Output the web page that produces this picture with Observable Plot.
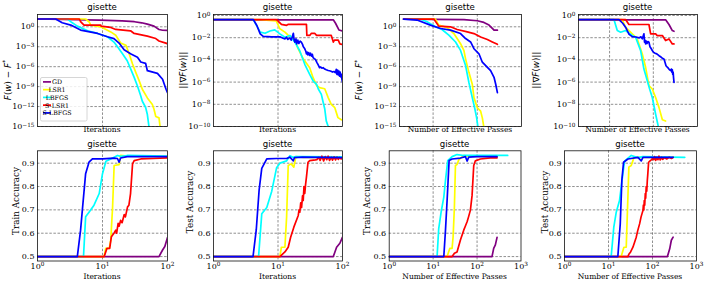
<!DOCTYPE html>
<html><head><meta charset="utf-8">
<script src="https://cdn.jsdelivr.net/npm/d3@7"></script>
<script src="https://cdn.jsdelivr.net/npm/@observablehq/plot@0.6"></script>
<style>
html,body{margin:0;padding:0;background:#fff;}
#chart{position:relative;width:706px;height:285px;background:#fff;overflow:hidden;}
#chart svg{position:absolute;}
</style></head><body><div id="chart"></div>
<script>
// ---------- data ----------
const seriesNames = ["GD", "LSR1", "LBFGS", "S-LSR1", "S-LBFGS"];
const seriesColors = ["#800080", "#ffff00", "#00ffff", "#ff0000", "#0000ff"];
const title = "gisette";

const lossTicks = [1, 1e-3, 1e-6, 1e-9, 1e-12, 1e-15];
const gradTicks = [1, 1e-2, 1e-4, 1e-6, 1e-8, 1e-10];
const accTicks = [0.5, 0.6, 0.7, 0.8, 0.9];
const iterTicks = [1, 10, 100];
const passTicks = [1, 10, 100, 1000];

// F(w) - F* vs iterations
const lossIter = {
  "GD": [[1,15],[9,10.4],[20,8],[31,5.8],[40,4],[49,2.5],[62,1.26],[74,0.39],[84,0.3],[100,0.28]],
  "LSR1": [[1,15],[5.5,15],[6.2,5.8],[6.6,1.8],[9.4,1.0],[13.4,0.17],[16,0.054],[19,3.6e-3],[23,1.6e-3],[25.7,8.7e-5],[29,2.5e-6],[32.5,1.4e-7],[36.6,7.9e-9],[41,4e-10],[49,2e-11],[58.5,2e-12],[62,4e-13],[66,3.2e-14],[74,2e-14],[77,8e-16]],
  "LBFGS": [[1,15],[2.9,15],[3.25,5.8],[4.1,1.26],[5.9,0.25],[8.4,0.1],[11.9,0.032],[15,5e-3],[17,1e-3],[20.3,8.7e-5],[24,7.9e-6],[27,5e-7],[30.7,2.5e-8],[34.5,1.26e-9],[38.8,4e-11],[41,6.3e-12],[46,7.9e-13],[49,6.3e-14],[52,8e-16]],
  "S-LSR1": [[1,15],[4.4,15],[4.6,5.8],[5.2,1.8],[9.4,1.8],[9.5,1.26],[13.4,0.8],[16,0.4],[27,0.25],[30.7,0.1],[49,0.04],[66,0.017],[74,7.4e-3],[100,2.9e-3]],
  "S-LBFGS": [[1,15],[1.9,15],[2.4,4],[3.25,1.8],[4.6,0.32],[8.4,0.1],[11.9,0.032],[15,0.017],[18,3.6e-3],[21.5,3.5e-4],[27,8.7e-5],[34.5,2.7e-5],[38.8,5e-6],[46,3.2e-6],[49,2.5e-7],[70,1e-7],[84,1.26e-8],[89,2.5e-9],[95,4e-10],[100,1.26e-10]]
};
// ||grad F(w)|| vs iterations
const gradIter = {
  "GD": [[1,0.41],[72,0.41],[78,0.2],[88,0.05],[100,0.04]],
  "LSR1": [[1,0.43],[5.2,0.43],[9.4,0.32],[10.7,0.063],[12.8,0.032],[14.5,0.016],[17.3,0.011],[20.6,1e-3],[24.6,1.26e-4],[31,2e-5],[35,2.5e-6],[39.6,5e-7],[44,3.2e-7],[53,2.5e-7],[60,4e-8],[67,1e-8],[76,5e-9],[85,6.3e-10],[96,4e-10]],
  "LBFGS": [[1,0.43],[4.15,0.43],[5.3,0.032],[6.3,0.025],[7.5,0.04],[8.9,0.05],[10.7,0.022],[12.8,0.011],[15.3,0.016],[18.3,4e-3],[21.8,6.3e-4],[26,4e-5],[31,5e-6],[35,1.26e-6],[39.6,6.3e-7],[42,2.5e-7],[47,7.9e-8],[50,1.6e-8],[53,4e-9],[56,3.2e-10],[60,1e-10]],
  "S-LSR1": [[1,0.43],[9.5,0.43],[11.3,0.16],[13.6,0.13],[14.5,0.16],[27.6,0.16],[28,0.016],[31,0.016],[33,0.025],[37,0.025],[39.6,0.016],[67,0.016],[72,4e-3],[75,6e-3],[86,6e-3],[91,2.8e-3],[100,2.5e-3]],
  "S-LBFGS": [[1,0.43],[4.15,0.43],[4.7,0.126],[5.3,0.022],[5.9,0.013],[8,0.012],[10.7,0.012],[12,0.009],[12.8,0.0079],[13.5,0.011],[14.2,0.007],[15.3,0.0095],[16,0.006],[16.7,0.012],[17.3,0.025],[17.8,0.006],[18.3,0.004],[19,0.008],[19.5,0.0028],[20.3,0.006],[21,0.003],[22,0.005],[23,0.004],[24,0.0025],[24.6,0.0016],[25.5,0.0012],[26,0.001],[27,0.0006],[27.6,0.00035],[28.5,0.0005],[29,0.00028],[30,0.00045],[31,0.00025],[32,0.0004],[33,0.00022],[34,0.00032],[35,0.00016],[36.5,0.00013],[38,0.00011],[40,6e-5],[42,3.5e-5],[44,2e-5],[46,2.3e-5],[48,1.8e-5],[50,2e-5],[53,1.5e-5],[56,1.3e-5],[60,1.1e-5],[65,1e-5],[70,8e-6],[74,9e-6],[78,7e-6],[80,1.4e-5],[82,5e-6],[84,1.2e-5],[86,4.5e-6],[88,1e-5],[90,3.5e-6],[92,8e-6],[94,3e-6],[96,5e-6],[98,1.8e-6],[100,1e-6]]
};
// F(w) - F* vs effective passes
const lossPass = {
  "GD": [[2.15,14.7],[50,12],[100,8.2],[141,4.6],[184,1.8],[219,0.56],[239,0.31],[285,0.31]],
  "LSR1": [[2.15,14.7],[11.3,14.7],[13.4,1.8],[20.8,0.79],[29.5,0.096],[41.8,2.9e-3],[49.7,2.8e-4],[54.3,1.5e-5],[64.6,1.4e-7],[77,2.3e-9],[84,2.2e-11],[100,6.6e-13],[119,2e-13],[130,2e-14],[141,7.4e-16]],
  "LBFGS": [[2.15,14.7],[5.15,14.7],[7.3,5.8],[11.3,1],[15.9,0.39],[22.7,0.054],[32.2,5.2e-3],[41.8,2.8e-4],[54.3,1.45e-6],[64.6,4.2e-9],[77,2.2e-11],[87,6.6e-13],[96.7,2e-14],[103.6,7.4e-16]],
  "S-LSR1": [[2.15,14.7],[10.4,14.7],[13.4,1.26],[24.8,1],[35,0.39],[59.3,0.17],[84,0.096],[119,0.03],[169,0.012],[219,5.2e-3],[285,2.3e-3]],
  "S-LBFGS": [[2.15,14.7],[4.33,10.4],[8.7,1.8],[14.7,0.56],[24.8,0.31],[41.8,0.096],[54.3,0.017],[70.5,5.2e-3],[84,5e-4],[109,8.7e-5],[130,4.7e-6],[155,1.45e-6],[200,2.5e-7],[239,2.5e-8],[261,2.3e-9],[285,1.26e-10]]
};
// ||grad F(w)|| vs effective passes
const gradPass = {
  "GD": [[1.99,0.41],[191,0.41],[228,0.154],[272,0.044],[297,0.038]],
  "LSR1": [[1.99,0.43],[19.5,0.43],[23.2,0.088],[33,0.022],[43,7.8e-3],[56,3.4e-4],[66.7,2.15e-5],[79.5,4.8e-7],[94.8,2.4e-7],[113,4.1e-8],[135,5e-9],[161,4.1e-10],[191,3.1e-10]],
  "LBFGS": [[1.99,0.43],[12.6,0.43],[15,0.044],[17.9,0.031],[23.2,0.044],[33,0.0156],[39.4,0.011],[51.3,6.9e-4],[61,1.5e-5],[72.9,1.34e-6],[82.4,2.4e-7],[94.8,4.1e-8],[113,1.26e-9],[130,1e-10]],
  "S-LSR1": [[1.99,0.43],[23.2,0.43],[27.7,0.154],[79.5,0.154],[86.9,0.022],[113,0.022],[123,0.0156],[161,0.0156],[191,5.5e-3],[228,7.8e-3],[272,2.75e-3],[297,2.75e-3]],
  "S-LBFGS": [[1.99,0.43],[16.4,0.43],[20,0.2],[23.2,0.088],[28,0.02],[33,0.0126],[40,0.0115],[47,0.0096],[52,0.012],[56,0.008],[59,0.015],[61,0.022],[63,0.004],[64.5,0.006],[66.7,0.0028],[69,0.005],[72,0.003],[75,0.0045],[79.5,0.0039],[84,0.0015],[90,0.001],[94.8,0.0007],[100,0.0005],[110,0.0004],[120,0.00035],[135,0.00024],[150,0.00018],[165,0.00013],[175,0.00012],[185,6e-5],[195,3e-5],[209,2.2e-5],[220,1.8e-5],[230,1.4e-5],[240,1.2e-5],[249,1.1e-5],[258,1.5e-5],[265,8e-6],[272,1.3e-5],[278,5e-6],[284,8e-6],[290,2.5e-6],[297,9.6e-7]]
};
// Train accuracy vs iterations
const trainIter = {
  "GD": [[1,0.5],[74,0.5],[84,0.528],[91,0.543],[100,0.582]],
  "LSR1": [[1,0.5],[10.6,0.5],[11.2,0.535],[12.7,0.535],[13.4,0.571],[14.3,0.713],[15.1,0.89],[18,0.894],[19,0.933],[24,0.93],[100,0.928]],
  "LBFGS": [[1,0.5],[5.1,0.5],[5.5,0.67],[6.2,0.69],[7.4,0.72],[8.9,0.77],[10,0.855],[11.3,0.908],[13.4,0.918],[17,0.933],[19,0.929],[24,0.933],[100,0.93]],
  "S-LSR1": [[1,0.5],[10.6,0.5],[11.7,0.535],[12.9,0.535],[13.7,0.585],[15,0.6],[16,0.613],[16.5,0.6],[17.4,0.642],[18,0.63],[19,0.655],[20,0.645],[21.6,0.68],[22.5,0.67],[24.3,0.713],[25.5,0.72],[27,0.77],[29,0.897],[30.7,0.911],[38.8,0.918],[60,0.92],[100,0.923]],
  "S-LBFGS": [[1,0.5],[4.1,0.5],[4.6,0.613],[4.9,0.7],[5.5,0.855],[6.2,0.904],[7,0.918],[10,0.918],[15,0.922],[17,0.92],[18,0.904],[19,0.922],[24,0.928],[100,0.928]]
};
// Test accuracy vs iterations
const testIter = {
  "GD": [[1,0.5],[72,0.5],[81,0.54],[91,0.557],[100,0.583]],
  "LSR1": [[1,0.5],[10.7,0.5],[11.3,0.54],[12.8,0.54],[13.6,0.67],[14.4,0.89],[16,0.897],[17.6,0.883],[18.9,0.928],[25,0.925],[100,0.925]],
  "LBFGS": [[1,0.5],[5,0.5],[5.6,0.683],[6.7,0.71],[8,0.78],[9.5,0.88],[10.7,0.9],[13.6,0.91],[15.3,0.932],[17,0.925],[19,0.928],[100,0.927]],
  "S-LSR1": [[1,0.5],[10.7,0.5],[12.8,0.52],[14.4,0.54],[15.7,0.583],[17.6,0.626],[20.6,0.676],[21.2,0.7],[21.8,0.69],[22.5,0.73],[23.2,0.71],[24,0.76],[24.6,0.74],[25.3,0.8],[26,0.77],[26.8,0.81],[27.6,0.84],[29.2,0.904],[31,0.911],[38,0.914],[40,0.915],[43,0.925],[45,0.912],[48,0.93],[51,0.91],[54,0.928],[57,0.915],[60,0.93],[63,0.912],[67,0.925],[70,0.913],[74,0.927],[78,0.914],[82,0.926],[86,0.916],[90,0.924],[95,0.918],[100,0.922]],
  "S-LBFGS": [[1,0.5],[4.1,0.5],[4.6,0.614],[5.1,0.786],[5.6,0.878],[6.7,0.918],[9.5,0.92],[13.6,0.92],[15.3,0.926],[17.3,0.91],[18,0.924],[24,0.926],[100,0.924]]
};
// Train accuracy vs effective passes
const trainPass = {
  "GD": [[1,0.5],[219,0.5],[239,0.535],[261,0.55],[285,0.582]],
  "LSR1": [[1,0.5],[20.8,0.5],[23.9,0.535],[27,0.535],[28.5,0.585],[30.5,0.713],[32.2,0.89],[35,0.894],[38.3,0.914],[49.7,0.933],[60,0.93],[285,0.928]],
  "LBFGS": [[1,0.5],[12.3,0.5],[13.4,0.62],[15.2,0.69],[17.5,0.755],[19.1,0.826],[21.5,0.911],[27,0.928],[35,0.937],[49.7,0.933],[70,0.933],[498,0.933]],
  "S-LSR1": [[1,0.5],[27,0.5],[30.5,0.514],[35,0.52],[41.8,0.571],[49.7,0.613],[54,0.63],[59.3,0.649],[64,0.67],[70.5,0.699],[77,0.762],[84,0.89],[91.5,0.91],[119,0.918],[200,0.923],[285,0.923]],
  "S-LBFGS": [[1,0.5],[17.5,0.5],[19.1,0.613],[20.8,0.741],[23.1,0.911],[27,0.918],[41.8,0.922],[54.3,0.928],[59.3,0.909],[64.6,0.926],[100,0.928],[285,0.928]]
};
// Test accuracy vs effective passes
const testPass = {
  "GD": [[1,0.5],[218,0.5],[246,0.533],[268,0.57],[294,0.583]],
  "LSR1": [[1,0.5],[19.4,0.5],[22.4,0.54],[25.3,0.54],[27.6,0.754],[29,0.883],[32.9,0.89],[35.9,0.911],[38,0.925],[294,0.925]],
  "LBFGS": [[1,0.5],[11.5,0.5],[13.2,0.626],[15,0.69],[17.8,0.74],[21.2,0.854],[23.2,0.909],[32.9,0.933],[46.7,0.924],[60,0.928],[541,0.925]],
  "S-LSR1": [[1,0.5],[27.6,0.5],[29,0.51],[31.8,0.52],[35.9,0.54],[39,0.56],[42.7,0.583],[46,0.61],[50.9,0.64],[55,0.67],[58,0.685],[60.7,0.697],[62,0.72],[63.5,0.7],[65,0.74],[66.5,0.72],[68.6,0.77],[70,0.75],[72,0.8],[74,0.78],[76.2,0.826],[78,0.85],[81.6,0.904],[88,0.91],[94,0.914],[100,0.92],[106,0.915],[112,0.928],[118,0.912],[125,0.925],[133,0.915],[140,0.93],[150,0.914],[160,0.925],[170,0.916],[189,0.924],[210,0.918],[240,0.925],[270,0.92],[294,0.925]],
  "S-LBFGS": [[1,0.5],[16.3,0.5],[18.5,0.64],[20.1,0.826],[22,0.904],[27.6,0.918],[46.7,0.925],[55.5,0.91],[60.7,0.925],[94,0.925],[294,0.925]]
};

// ---------- layout ----------
const fmtPow = d => "10^" + Math.round(Math.log10(d));
const fmtDec = d3.format(".1f");

const TOP = [14, 126], BOT = [150.3, 260.5];
const lossLabel = [["F", true], ["(", false], ["w", true], [") − ", false], ["F", true], ["*", false, true]];
const gradLabel = [["||∇", false], ["F", true], ["(", false], ["w", true], [")||", false]];

const panels = [
  {cell:[0,0,176,140], fx:[37,167], fy:TOP, data:lossIter, xd:[1,100], xt:null, xg:[10], yt:"log", yd:[1e-15,10**1.85], yticks:lossTicks, xl:"Iterations", yl:lossLabel, ylp:[7.5,80], legend:true},
  {cell:[176,0,176,140], fx:[213,342], fy:TOP, data:gradIter, xd:[1,100], xt:null, xg:[10], yt:"log", yd:[1e-10,10**0.09], yticks:gradTicks, xl:"Iterations", yl:gradLabel, ylp:[183,70]},
  {cell:[352,0,178,140], fx:[399,521], fy:TOP, data:lossPass, xd:[10**0.24,10**3.0], xt:null, xg:[10,100], yt:"log", yd:[1e-15,10**1.85], yticks:lossTicks, xl:"Number of Effective Passes", yl:lossLabel, ylp:[359,80]},
  {cell:[530,0,176,140], fx:[578,697], fy:TOP, data:gradPass, xd:[10**0.29,10**3.01], xt:null, xg:[10,100], yt:"log", yd:[1e-10,10**0.09], yticks:gradTicks, xl:"Number of Effective Passes", yl:gradLabel, ylp:[536,70]},
  {cell:[0,140,176,145], fx:[37,167], fy:BOT, data:trainIter, xd:[1,100], xt:iterTicks, xg:[10], yt:"linear", yd:[0.481,0.953], yticks:accTicks, xl:"Iterations", yl:"Train Accuracy", ylp:[16,201]},
  {cell:[176,140,176,145], fx:[213,342], fy:BOT, data:testIter, xd:[1,100], xt:iterTicks, xg:[10], yt:"linear", yd:[0.481,0.953], yticks:accTicks, xl:"Iterations", yl:"Test Accuracy", ylp:[190,202]},
  {cell:[352,140,178,145], fx:[388.7,520.5], fy:BOT, data:trainPass, xd:[1,1000], xt:passTicks, xg:[10,100], yt:"linear", yd:[0.481,0.953], yticks:accTicks, xl:"Number of Effective Passes", yl:"Train Accuracy", ylp:[367,201]},
  {cell:[530,140,176,145], fx:[564,696], fy:BOT, data:testPass, xd:[1,1000], xt:passTicks, xg:[10,100], yt:"linear", yd:[0.481,0.953], yticks:accTicks, xl:"Number of Effective Passes", yl:"Test Accuracy", ylp:[545,202]}
];

const chart = document.getElementById("chart");
const SERIF = "'DejaVu Serif', serif";
const SANS = "'DejaVu Sans', sans-serif";

for (const p of panels) {
  const [cx, cy, cw, ch] = p.cell;
  const rows = seriesNames.flatMap(s => (p.data[s] || []).map(([x, y]) => ({series: s, x, y})));
  const svg = Plot.plot({
    width: cw, height: ch,
    marginLeft: p.fx[0] - cx, marginRight: cx + cw - p.fx[1],
    marginTop: p.fy[0] - cy, marginBottom: cy + ch - p.fy[1],
    style: {background: "transparent", fontFamily: SERIF, fontSize: "8px", color: "#000", overflow: "visible"},
    x: {type: "log", domain: p.xd, axis: p.xt ? "bottom" : null, ticks: p.xt || undefined, tickFormat: fmtPow, tickSize: 0, tickPadding: 2, label: null},
    y: {type: p.yt, domain: p.yd, ticks: p.yticks, tickFormat: p.yt === "log" ? fmtPow : fmtDec, tickSize: 0, tickPadding: 3, label: null},
    color: {domain: seriesNames, range: seriesColors},
    marks: [
      Plot.ruleY(p.yticks, {stroke: "#444", strokeWidth: 0.6, strokeDasharray: "2.5,1.6"}),
      Plot.ruleX(p.xg, {stroke: "#444", strokeWidth: 0.6, strokeDasharray: "2.5,1.6"}),
      Plot.line(rows, {x: "x", y: "y", z: "series", stroke: "series", strokeWidth: 1.7, clip: true}),
      Plot.frame({stroke: "#111", strokeWidth: 0.8})
    ]
  });
  svg.style.left = cx + "px";
  svg.style.top = cy + "px";
  chart.appendChild(svg);
  const g = d3.select(svg);
  // power-of-ten tick labels with a real superscript
  g.selectAll("text").each(function() {
    const m = /^10\^(-?\d+)$/.exec(this.textContent);
    if (!m) return;
    const t = d3.select(this);
    t.text(null);
    t.append("tspan").text("10");
    t.append("tspan").attr("dy", "-0.42em").attr("font-size", "0.72em").text(m[1].replace("-", "−"));
  });
  const midX = (p.fx[0] + p.fx[1]) / 2 - cx;
  // title
  g.append("text").attr("x", midX).attr("y", p.fy[0] - cy - 3.6)
    .attr("text-anchor", "middle").attr("font-family", SANS).attr("font-size", 8.6).attr("fill", "#000").text(title);
  // x label
  g.append("text").attr("x", midX).attr("y", (p.fy === TOP ? 131.8 : 278.8) - cy)
    .attr("text-anchor", "middle").attr("font-family", SERIF).attr("font-size", 7.5).attr("fill", "#000").text(p.xl);
  // y label
  const yl = g.append("text")
    .attr("transform", `translate(${p.ylp[0] - cx},${p.ylp[1] - cy}) rotate(-90)`)
    .attr("text-anchor", "middle").attr("dominant-baseline", "central").attr("fill", "#000");
  if (typeof p.yl === "string") {
    yl.attr("font-family", SERIF).attr("font-size", 8.8).text(p.yl);
  } else {
    yl.attr("font-family", SANS).attr("font-size", 8.8);
    for (const [t, it, sp] of p.yl) {
      const ts = yl.append("tspan").text(t);
      if (it) ts.attr("font-style", "italic");
      if (sp) ts.attr("dy", -3.2).attr("font-size", 6.2);
    }
  }
  // legend
  if (p.legend) {
    const lx = 40.5 - cx, ly = 77.5 - cy;
    g.append("rect").attr("x", lx).attr("y", ly).attr("width", 46.5).attr("height", 43.5)
      .attr("rx", 1.5).attr("fill", "#fff").attr("fill-opacity", 0.85).attr("stroke", "#ccc").attr("stroke-width", 0.8);
    seriesNames.forEach((s, i) => {
      const yy = ly + 4.4 + i * 7.75;
      g.append("line").attr("x1", lx + 2.5).attr("x2", lx + 10.5).attr("y1", yy).attr("y2", yy)
        .attr("stroke", seriesColors[i]).attr("stroke-width", 1.7);
      g.append("text").attr("x", lx + 16.5).attr("y", yy).attr("dominant-baseline", "central")
        .attr("font-family", SERIF).attr("font-size", 6.3).attr("fill", "#000").text(s);
    });
  }
}
</script>
</body></html>
